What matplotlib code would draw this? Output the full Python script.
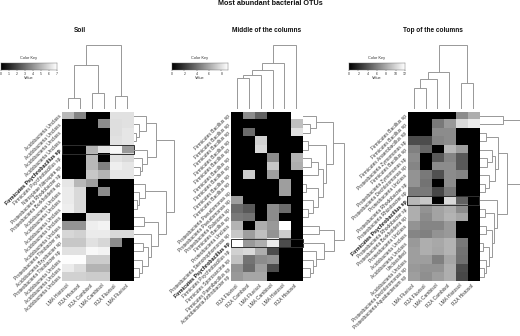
import numpy as np
import matplotlib
matplotlib.use('Agg')
import matplotlib.pyplot as plt
from matplotlib.patches import Rectangle

plt.rcParams['font.family'] = ['Liberation Sans', 'DejaVu Sans']

W = 520
H = 336
LINE = '#989898'

# cell brightness, 0 black .. 100 white
soil = [
    [72, 52, 0, 0, 88, 88],
    [0, 0, 0, 55, 87, 88],
    [0, 0, 0, 0, 87, 90],
    [0, 0, 0, 0, 88, 90],
    [0, 0, 70, 88, 97, 60],
    [0, 0, 72, 0, 88, 85],
    [0, 0, 72, 50, 93, 90],
    [0, 0, 78, 70, 90, 90],
    [90, 72, 62, 0, 0, 0],
    [92, 85, 0, 55, 0, 0],
    [92, 85, 0, 0, 0, 0],
    [93, 85, 0, 0, 0, 0],
    [0, 0, 85, 85, 0, 0],
    [58, 58, 93, 95, 0, 0],
    [84, 82, 92, 92, 85, 85],
    [78, 78, 88, 84, 55, 0],
    [88, 88, 97, 95, 0, 0],
    [99, 99, 80, 80, 0, 0],
    [92, 86, 70, 70, 0, 0],
    [82, 82, 80, 80, 0, 0],
]
middle = [
    [0, 55, 38, 0, 0, 100],
    [0, 0, 0, 0, 0, 75],
    [0, 42, 0, 0, 0, 88],
    [0, 0, 82, 0, 0, 0],
    [0, 0, 85, 0, 0, 0],
    [0, 0, 0, 55, 0, 70],
    [0, 0, 0, 78, 0, 68],
    [0, 80, 0, 62, 0, 0],
    [0, 0, 0, 0, 62, 0],
    [0, 0, 0, 0, 62, 0],
    [62, 0, 0, 0, 0, 0],
    [42, 35, 0, 55, 42, 0],
    [48, 45, 0, 55, 0, 0],
    [70, 0, 68, 60, 100, 0],
    [78, 62, 75, 58, 80, 0],
    [100, 60, 68, 92, 30, 0],
    [82, 85, 68, 30, 0, 0],
    [76, 45, 55, 58, 0, 0],
    [58, 42, 62, 30, 0, 0],
    [60, 65, 65, 0, 0, 0],
]
top = [
    [0, 0, 0, 0, 55, 68],
    [0, 0, 48, 60, 85, 92],
    [0, 0, 55, 55, 0, 0],
    [30, 30, 52, 55, 0, 0],
    [50, 40, 0, 72, 62, 0],
    [55, 0, 35, 52, 35, 0],
    [52, 0, 55, 55, 35, 0],
    [58, 48, 32, 55, 52, 0],
    [58, 45, 0, 55, 0, 0],
    [48, 48, 28, 48, 0, 0],
    [72, 78, 0, 85, 38, 0],
    [68, 58, 64, 68, 55, 0],
    [68, 55, 64, 70, 65, 0],
    [58, 52, 52, 60, 0, 0],
    [52, 50, 58, 60, 0, 0],
    [60, 68, 66, 70, 48, 0],
    [62, 68, 65, 70, 45, 0],
    [62, 62, 50, 65, 44, 0],
    [60, 58, 58, 68, 30, 0],
    [62, 56, 62, 68, 28, 0],
]

acido = 'Acidobacteria Unclass'
bacillus = 'Firmicutes Bacillus sp'
psychro = 'Firmicutes Psychrobacillus sp'
soil_rows = [acido, acido, acido, acido, psychro, psychro,
             'Nitrospirae Nitrospira sp', 'Proteobacteria Rhodobacter sp',
             'Proteobacteria Burkholderia sp', acido, acido, acido, acido, acido,
             'Proteobacteria Thiobacter sp', 'Acidobacteria Bryobacter sp',
             'Proteobacteria Thiobacter sp', acido, acido, acido]
middle_rows = [bacillus] * 9 + ['Proteobacteria Pseudomonas sp', 'Proteobacteria Pseudomonas sp',
               'Proteobacteria Ralstonia sp', bacillus, 'Proteobacteria Unclass',
               'Proteobacteria Stenotrophomonas sp', psychro, psychro,
               'Firmicutes Sporosarcina sp', 'Firmicutes Paenibacillus sp',
               'Actinobacteria Arthrobacter sp']
top_rows = [bacillus, bacillus, 'Firmicutes Anaerobacillus sp', 'Proteobacteria Zymomonas sp',
            bacillus, 'Proteobacteria Zymomonas sp', 'Proteobacteria Dechloromonas sp',
            'Proteobacteria Unclass', 'Proteobacteria Rhodobacter sp',
            'Proteobacteria Rhizobacter sp', psychro, 'Proteobacteria Rhodobacter sp',
            'Proteobacteria Burkholderia sp', 'Proteobacteria Unclass', acido, acido,
            'Unclassified', acido, 'Proteobacteria Dechloromonas sp',
            'Proteobacteria Aquabacterium sp']

soil_cols = ['LMA Histosol', 'R2A Histosol', 'R2A Cambisol', 'LMA Cambisol', 'R2A Fluvisol', 'LMA Fluvisol']
middle_cols = ['R2A Fluvisol', 'R2A Cambisol', 'LMA Fluvisol', 'LMA Cambisol', 'LMA Histosol', 'R2A Histosol']
top_cols = ['LMA Fluvisol', 'R2A Fluvisol', 'LMA Cambisol', 'R2A Cambisol', 'LMA Histosol', 'R2A Histosol']

# dendrograms: (height, left, right), ints are leaves
soil_col_tree = (63, (43, (10, 0, 1), (15, 2, 3)), (12, 4, 5))
middle_col_tree = (63, (45, (38, (33, (30.5, 0, 1), 2), 3), 4), 5)
top_col_tree = (63, (36, (29, (20, 0, 1), 2), 3), (25, 4, 5))

soil_row_tree = (40,
                 (22, (12, 0, (5, 1, (2, 2, 3))), (13, 4, (8, 5, (6, 6, 7)))),
                 (32, (11, 8, (5, 9, (3, 10, 11))),
                  (24, (10, 12, 13), (17, 14, (14, (9, 15, 16), (8, 17, (5, 18, 19)))))))
middle_row_tree = (41,
                   (30, (13, 0, (7, 1, 2)),
                    (23, (5, 3, 4), (20, (15, (8, 5, 6), 7),
                                      (15, (3, 8, 9), (10, 10, (5, 11, 12)))))),
                   (31, (16, 13, 14), (21, 15, (13, 16, (10, 17, (7, 18, 19))))))
top_row_tree = (40, (23, 0, 1),
                (27, (18, (6, 2, 3), (15, (12, 4, (7, 5, 6)), (9, 7, (5, 8, 9)))),
                 (17, 10, (14, (5, 11, 12), (12, (6, 13, 14), (9, (3, 15, 16), (6, 17, (4, 18, 19))))))))

key_ticks = [[0, 1, 2, 3, 4, 5, 6, 7], [0, 2, 4, 6, 8], [0, 2, 4, 6, 8, 10, 12]]
key_max = [7, 9.07, 12]


def axpx(x0, y0, x1, y1):
    ax = fig.add_axes([x0 / W, 1 - y1 / H, (x1 - x0) / W, (y1 - y0) / H])
    return ax


def txt(x, y, s, **kw):
    kw.setdefault('ha', 'center')
    kw.setdefault('va', 'center')
    fig.text(x / W, 1 - y / H, s, **kw)


def tree_lines(ax, node, horizontal):
    # returns leaf position and height of this node
    if isinstance(node, int):
        return node + 0.5, 0
    h, left, right = node
    p1, h1 = tree_lines(ax, left, horizontal)
    p2, h2 = tree_lines(ax, right, horizontal)
    a = [h1, h, h, h2]
    b = [p1, p1, p2, p2]
    if horizontal:
        ax.plot(a, b, color=LINE, lw=0.7, solid_joinstyle='miter', clip_on=False)
    else:
        ax.plot(b, a, color=LINE, lw=0.7, solid_joinstyle='miter', clip_on=False)
    return (p1 + p2) / 2, h


def panel(x0, data, rows, cols, col_tree, row_tree, bold_row, title, title_x, key_x, key_idx):
    y0, y1 = 111.5, 281
    x1 = x0 + 71.3
    ax = axpx(x0, y0, x1, y1)
    ax.imshow(np.array(data), cmap='gray', vmin=0, vmax=100, aspect='auto',
              interpolation='nearest', extent=(0, 6, 20, 0))
    ax.axis('off')
    ax.add_patch(Rectangle((-0.02, bold_row), 6.04, 1, fill=False, edgecolor='#303030', lw=0.7, clip_on=False))

    # row labels, column labels
    rh = (y1 - y0) / 20
    for i, s in enumerate(rows):
        if i == bold_row:
            txt(x0 - 1.5, y0 + (i + 0.5) * rh, s, rotation=45, ha='right', va='center',
                rotation_mode='anchor', fontsize=3.8, fontweight='bold', color='#111111')
        else:
            txt(x0 - 1.5, y0 + (i + 0.5) * rh, s, rotation=45, ha='right', va='center',
                rotation_mode='anchor', fontsize=3.5, color='#333333')
    cw = (x1 - x0) / 6
    for i, s in enumerate(cols):
        txt(x0 + (i + 0.5) * cw, y1 + 4, s, rotation=45, ha='right', va='center',
            rotation_mode='anchor', fontsize=3.5, color='#333333')

    # column dendrogram
    ax2 = axpx(x0, 45, x1, 108)
    ax2.set_xlim(0, 6)
    ax2.set_ylim(0, 63)
    ax2.axis('off')
    tree_lines(ax2, col_tree, False)

    # row dendrogram
    ax3 = axpx(x1 + 0.7, y0, x1 + 41, y1)
    ax3.set_xlim(0, 40.3)
    ax3.set_ylim(20, 0)
    ax3.axis('off')
    tree_lines(ax3, row_tree, True)

    txt(title_x, 30, title, fontsize=4.7, fontweight='bold', color='#111111')

    # colour key
    kx1 = key_x + 56
    ax4 = axpx(key_x, 62.7, kx1, 70)
    ax4.imshow(np.linspace(0, 1, 256).reshape(1, -1), cmap='gray', aspect='auto',
               extent=(0, key_max[key_idx], 0, 1))
    ax4.set_yticks([])
    ax4.set_xticks(key_ticks[key_idx])
    ax4.tick_params(axis='x', length=1, width=0.3, labelsize=2.5, pad=0.4, colors='#333333')
    for s in ax4.spines.values():
        s.set_linewidth(0.3)
        s.set_color('#666666')
    txt((key_x + kx1) / 2, 57.7, 'Color Key', fontsize=2.8, color='#333333')
    txt((key_x + kx1) / 2, 77.7, 'Value', fontsize=2.8, color='#333333')


fig = plt.figure(figsize=(W / 100, H / 100), dpi=100, facecolor='white')

txt(270.7, 3.3, 'Most abundant bacterial OTUs', fontsize=5.2, fontweight='bold', color='#111111')
panel(62, soil, soil_rows, soil_cols, soil_col_tree, soil_row_tree, 4, 'Soil', 80, 1, 0)
panel(231, middle, middle_rows, middle_cols, middle_col_tree, middle_row_tree, 15, 'Middle of the columns', 266.6, 172, 1)
panel(407.7, top, top_rows, top_cols, top_col_tree, top_row_tree, 10, 'Top of the columns', 432.7, 349, 2)

fig.savefig('out.png', dpi=100)
